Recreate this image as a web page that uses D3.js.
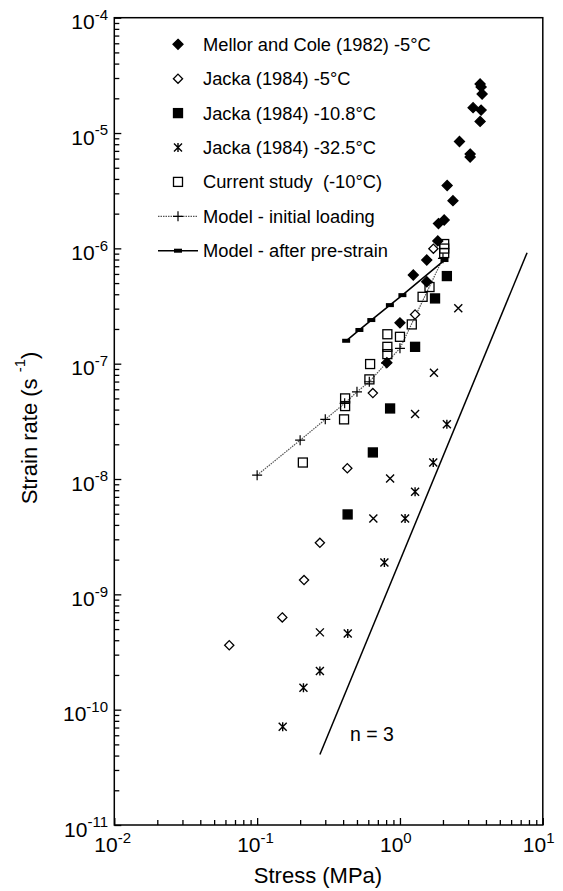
<!DOCTYPE html>
<html>
<head>
<meta charset="utf-8">
<script src="https://cdn.jsdelivr.net/npm/d3@7"></script>
<style>
  body { margin: 0; background: #fff; }
  svg { display: block; font-family: "Liberation Sans", Arial, sans-serif; }
  text { white-space: pre; }
</style>
</head>
<body>
<svg width="563" height="891"></svg>
<script>
// data (stress MPa, strain rate 1/s)
var mellorX = [3.64, 3.70, 3.76, 3.25, 3.70, 3.64, 2.61, 3.10, 3.10, 2.14, 2.35, 2.04, 1.86, 1.84, 1.54, 1.24, 1.54, 1.00, 0.81];
var mellorY = [2.66e-5, 2.51e-5, 2.18e-5, 1.66e-5, 1.58e-5, 1.26e-5, 8.44e-6, 6.57e-6, 6.19e-6, 3.51e-6, 2.59e-6, 1.76e-6, 1.64e-6, 1.16e-6, 7.92e-7, 5.87e-7, 5.13e-7, 2.26e-7, 1.02e-7];

var jacka5X = [0.0638, 0.150, 0.213, 0.275, 0.428, 0.646, 1.276, 1.714];
var jacka5Y = [3.62e-10, 6.31e-10, 1.33e-9, 2.80e-9, 1.24e-8, 5.56e-8, 2.67e-7, 9.93e-7];

var jacka108X = [2.13, 1.76, 1.276, 0.853, 0.646, 0.430];
var jacka108Y = [5.75e-7, 3.68e-7, 1.40e-7, 4.09e-8, 1.70e-8, 4.93e-9];

// -32.5C, drawn as asterisks
var jacka325X = [2.13, 1.71, 1.276, 1.086, 0.778, 0.431, 0.275, 0.211, 0.151];
var jacka325Y = [2.98e-8, 1.39e-8, 7.74e-9, 4.55e-9, 1.89e-9, 4.58e-10, 2.16e-10, 1.55e-10, 7.10e-11];
// -32.5C points that show as plain crosses
var jacka325xX = [2.56, 1.73, 1.276, 0.853, 0.651, 0.275];
var jacka325xY = [3.02e-7, 8.34e-8, 3.66e-8, 1.01e-8, 4.55e-9, 4.68e-10];

var currentX = [2.04, 2.04, 2.04, 1.61, 1.44, 1.21, 1.00, 0.816, 0.816, 0.816, 0.618, 0.611, 0.413, 0.413, 0.406, 0.209];
var currentY = [1.09e-6, 9.96e-7, 9.10e-7, 4.62e-7, 3.80e-7, 2.19e-7, 1.71e-7, 1.80e-7, 1.40e-7, 1.21e-7, 9.93e-8, 7.31e-8, 5.00e-8, 4.29e-8, 3.29e-8, 1.39e-8];

var modelInitX = [0.1, 0.2, 0.3, 0.41, 0.5, 0.61, 0.8, 1.0, 2.0];
var modelInitY = [1.08e-8, 2.17e-8, 3.29e-8, 4.53e-8, 5.70e-8, 6.97e-8, 1.01e-7, 1.36e-7, 8.19e-7];

var modelPreX = [0.42, 0.52, 0.63, 0.85, 1.04, 2.05];
var modelPreY = [1.58e-7, 1.96e-7, 2.39e-7, 3.22e-7, 3.93e-7, 7.92e-7];

var nLineX = [0.275, 7.76];
var nLineY = [4.08e-11, 9.17e-7];

var legendLabels = ["Mellor and Cole (1982) -5°C", "Jacka (1984) -5°C", "Jacka (1984) -10.8°C",
  "Jacka (1984) -32.5°C", "Current study  (-10°C)", "Model - initial loading", "Model - after pre-strain"];

var xTickExp = [-2, -1, 0, 1];
var yTickExp = [-11, -10, -9, -8, -7, -6, -5, -4];

var svg = d3.select("svg");
var pLeft = 114.3, pRight = 542.8, pTop = 17.7, pBottom = 825;

var x = d3.scaleLog().domain([1e-2, 1e1]).range([pLeft, pRight]);
var y = d3.scaleLog().domain([1e-11, 1e-4]).range([pBottom, pTop]);

function zip(xs, ys) { return xs.map(function (v, i) { return [v, ys[i]]; }); }
function isMajor(v) { return Math.abs(Math.log10(v) - Math.round(Math.log10(v))) < 1e-6; }

// axes: inward ticks
var gx = svg.append("g").attr("transform", "translate(0," + pBottom + ")")
  .call(d3.axisBottom(x).ticks(20).tickSizeInner(-5).tickSizeOuter(0).tickFormat(""));
gx.selectAll(".tick line").filter(function (d) { return isMajor(d); }).attr("y2", -7);
var gy = svg.append("g").attr("transform", "translate(" + pLeft + ",0)")
  .call(d3.axisLeft(y).ticks(40).tickSizeInner(-5).tickSizeOuter(0).tickFormat(""));
gy.selectAll(".tick line").filter(function (d) { return isMajor(d); }).attr("x2", 7);
svg.selectAll(".domain").remove();
svg.selectAll(".tick line").attr("stroke", "#000").attr("stroke-width", 1.3);

svg.append("rect").attr("x", pLeft).attr("y", pTop).attr("width", pRight - pLeft).attr("height", pBottom - pTop)
  .attr("fill", "none").attr("stroke", "#000").attr("stroke-width", 1.5);

// tick labels
xTickExp.forEach(function (e) {
  var t = svg.append("text").attr("x", x(Math.pow(10, e)) - 20).attr("y", pBottom + 27)
    .attr("font-size", 21);
  t.append("tspan").text("10");
  t.append("tspan").attr("dy", -9.3).attr("font-size", 15).text(e);
});
yTickExp.forEach(function (e) {
  var t = svg.append("text").attr("x", 108).attr("y", y(Math.pow(10, e)) + 11.5)
    .attr("text-anchor", "end").attr("font-size", 21);
  t.append("tspan").text("10");
  t.append("tspan").attr("dy", -9.3).attr("font-size", 15).text(e);
});

// axis titles
svg.append("text").attr("x", 318).attr("y", 883).attr("text-anchor", "middle")
  .attr("font-size", 22).text("Stress (MPa)");
var yt = svg.append("text").attr("transform", "translate(37,428) rotate(-90)")
  .attr("text-anchor", "middle").attr("font-size", 22);
yt.append("tspan").text("Strain rate (s ");
yt.append("tspan").attr("dy", -12).attr("font-size", 15).text("-1");
yt.append("tspan").attr("dy", 12).text(")");

// marker drawers
function diamond(g, r, filled) {
  return g.append("path").attr("d", "M0," + (-r) + "L" + r + ",0L0," + r + "L" + (-r) + ",0Z")
    .attr("fill", filled ? "#000" : "#fff").attr("stroke", "#000").attr("stroke-width", 1.3);
}
function square(g, s, filled) {
  return g.append("rect").attr("x", -s / 2).attr("y", -s / 2).attr("width", s).attr("height", s)
    .attr("fill", filled ? "#000" : "none").attr("stroke", "#000").attr("stroke-width", 1.3);
}
function cross(g, r, bar) {
  g.append("path").attr("d", "M" + (-r) + "," + (-r) + "L" + r + "," + r + "M" + (-r) + "," + r + "L" + r + "," + (-r) +
    (bar ? "M0," + (-r - 0.5) + "L0," + (r + 0.5) : ""))
    .attr("stroke", "#000").attr("stroke-width", 1.4).attr("fill", "none");
}
function plus(g, r) {
  g.append("path").attr("d", "M" + (-r) + ",0L" + r + ",0M0," + (-r) + "L0," + r)
    .attr("stroke", "#000").attr("stroke-width", 1.2);
}
function dash(g) {
  g.append("rect").attr("x", -4).attr("y", -2).attr("width", 8).attr("height", 4).attr("fill", "#000");
}

function points(xs, ys, draw) {
  svg.append("g").selectAll("g").data(zip(xs, ys)).enter().append("g")
    .attr("transform", function (d) { return "translate(" + x(d[0]) + "," + y(d[1]) + ")"; })
    .each(function () { draw(d3.select(this)); });
}

var line = d3.line().x(function (d) { return x(d[0]); }).y(function (d) { return y(d[1]); });

// n = 3 reference line
svg.append("path").attr("d", line(zip(nLineX, nLineY))).attr("stroke", "#000").attr("stroke-width", 1.5).attr("fill", "none");
svg.append("text").attr("x", 350).attr("y", 741).attr("font-size", 19.5).text("n = 3");

// model lines
svg.append("path").attr("d", line(zip(modelInitX, modelInitY))).attr("stroke", "#555")
  .attr("stroke-width", 1.2).attr("stroke-dasharray", "1.5,1").attr("fill", "none");
points(modelInitX, modelInitY, function (g) { plus(g, 5); });
svg.append("path").attr("d", line(zip(modelPreX, modelPreY))).attr("stroke", "#000")
  .attr("stroke-width", 1.6).attr("fill", "none");
points(modelPreX, modelPreY, dash);

points(currentX, currentY, function (g) { square(g, 9, false); });
points(jacka5X, jacka5Y, function (g) { diamond(g, 4.6, false); });
points(jacka108X, jacka108Y, function (g) { square(g, 9, true); });
points(jacka325X, jacka325Y, function (g) { cross(g, 4, true); });
points(jacka325xX, jacka325xY, function (g) { cross(g, 4, false); });
points(mellorX, mellorY, function (g) { diamond(g, 5, true); });

// legend
var lg = svg.append("g").selectAll("g").data(legendLabels).enter().append("g")
  .attr("transform", function (d, i) { return "translate(178," + (44.3 + 34.4 * i) + ")"; });
lg.append("text").attr("x", 25).attr("y", 6.5).attr("font-size", 18.3).text(function (d) { return d; });
lg.each(function (d, i) {
  var g = d3.select(this);
  if (i === 0) diamond(g, 5, true);
  if (i === 1) diamond(g, 4.6, false);
  if (i === 2) square(g, 9, true);
  if (i === 3) cross(g, 4, true);
  if (i === 4) square(g, 9, false);
  if (i === 5) {
    g.append("line").attr("x1", -20).attr("x2", 20).attr("stroke", "#555").attr("stroke-width", 1.2).attr("stroke-dasharray", "1.5,1");
    plus(g, 5);
  }
  if (i === 6) {
    g.append("line").attr("x1", -20).attr("x2", 20).attr("stroke", "#000").attr("stroke-width", 1.6);
    dash(g);
  }
});
</script>
</body>
</html>
